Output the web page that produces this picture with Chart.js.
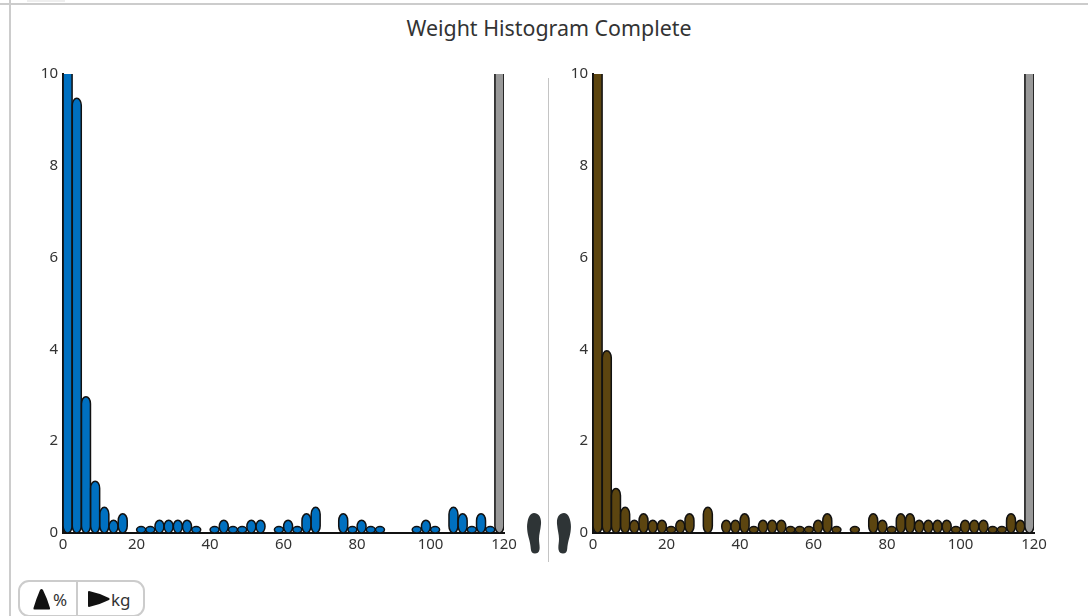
<!DOCTYPE html>
<html>
<head>
<meta charset="utf-8">
<title>Weight Histogram Complete</title>
<script src="https://cdn.jsdelivr.net/npm/chart.js@4"></script>
<style>
  html, body { margin: 0; padding: 0; background: #fff; overflow: hidden; }
  body { width: 1088px; height: 616px; position: relative; font-family: "Noto Sans", sans-serif; color: #333; }
  .frameTop { position: absolute; left: 0; top: 3px; width: 1088px; height: 2px; background: #ccc; }
  .frameLeft { position: absolute; left: 9px; top: 0; width: 2px; height: 616px; background: #ccc; }
  .tab { position: absolute; left: 27px; top: 0; width: 38px; height: 2px; background: #eee; }
  .title { position: absolute; left: 0; width: 1098px; top: 14px; text-align: center; font-size: 21.4px; line-height: 28px; }
  .divider { position: absolute; left: 548px; top: 78px; width: 1px; height: 484px; background: #c4c4c4; }
  canvas { position: absolute; top: 60px; }
  .foot { position: absolute; top: 513px; }
  .buttons { position: absolute; left: 18px; top: 580px; width: 127px; height: 37px; border: 2px solid #ccc; border-radius: 11px; box-sizing: border-box; }
  .sep { position: absolute; left: 56px; top: 0; width: 2px; height: 37px; background: #ccc; }
  .buttons svg, .buttons span { position: absolute; }
  .buttons span { font-size: 17px; line-height: 20px; top: 8px; }
</style>
</head>
<body>
<div class="frameTop"></div>
<div class="frameLeft"></div>
<div class="tab"></div>
<div class="title">Weight Histogram Complete</div>
<canvas id="leftChart"></canvas>
<canvas id="rightChart"></canvas>
<div class="divider"></div>
<svg class="foot" style="left:527px" width="15" height="41" viewBox="0 0 15 41"><path d="M7 0C11.500 0 14.500 4 14 11C13.500 17 12 21 12 26C12 30 13 33 12.500 36.500C12 39.500 10 40.500 8 40.500C5.500 40.500 4 39 3.800 36C3.500 32 3 29 1.500 24C0.300 19 -0.500 14 0.500 9C1.500 3.500 3.500 0 7 0Z" fill="#2e3436"/></svg>
<svg class="foot" style="left:556px" width="15" height="41" viewBox="0 0 15 41"><path d="M8 0C3.500 0 0.500 4 1 11C1.500 17 3 21 3 26C3 30 2 33 2.500 36.500C3 39.500 5 40.500 7 40.500C9.500 40.500 11 39 11.200 36C11.500 32 12 29 13.500 24C14.700 19 15.500 14 14.500 9C13.500 3.500 11.500 0 8 0Z" fill="#2e3436"/></svg>
<div class="buttons">
  <svg style="left:13px;top:6px" width="18" height="22" viewBox="0 0 18 22"><path d="M7 2Q8.500 0 10 2Q14 10 17 20Q17.500 21.500 16 21.500L1.500 21.500Q0 21.500 0.500 20Q3.500 10 7 2Z" fill="#111"/></svg>
  <span style="left:33px">%</span>
  <div class="sep"></div>
  <svg style="left:67px;top:8px" width="24" height="18" viewBox="0 0 24 18"><path d="M2 1Q1 1 1 2L1 16Q1 17 2 17Q12 15 22 10Q23.500 9 22 8Q12 3 2 1Z" fill="#111"/></svg>
  <span style="left:91px">kg</span>
</div>
<script>
const binCenters = [1.25, 3.75, 6.25, 8.75, 11.25, 13.75, 16.25, 18.75, 21.25, 23.75, 26.25, 28.75,
  31.25, 33.75, 36.25, 38.75, 41.25, 43.75, 46.25, 48.75, 51.25, 53.75, 56.25, 58.75,
  61.25, 63.75, 66.25, 68.75, 71.25, 73.75, 76.25, 78.75, 81.25, 83.75, 86.25, 88.75,
  91.25, 93.75, 96.25, 98.75, 101.25, 103.75, 106.25, 108.75, 111.25, 113.75, 116.25, 118.75];

const leftValues = [14, 9.47, 2.97, 1.13, 0.56, 0.28, 0.42, 0, 0.14, 0.14, 0.28, 0.28,
  0.28, 0.28, 0.14, 0, 0.14, 0.28, 0.14, 0.14, 0.28, 0.28, 0, 0.14,
  0.28, 0.14, 0.42, 0.56, 0, 0, 0.42, 0.14, 0.28, 0.14, 0.14, 0,
  0, 0, 0.14, 0.28, 0.14, 0, 0.56, 0.42, 0.14, 0.42, 0.14, 14];

const rightValues = [14, 3.97, 0.97, 0.56, 0.28, 0.42, 0.28, 0.28, 0.14, 0.28, 0.42, 0,
  0.56, 0, 0.28, 0.28, 0.42, 0.14, 0.28, 0.28, 0.28, 0.14, 0.14, 0.14,
  0.28, 0.42, 0.14, 0, 0.14, 0, 0.42, 0.28, 0.14, 0.42, 0.42, 0.28,
  0.28, 0.28, 0.28, 0.14, 0.28, 0.28, 0.28, 0.14, 0.14, 0.42, 0.28, 14];

const xTicks = [0, 20, 40, 60, 80, 100, 120];
const yTicks = [0, 2, 4, 6, 8, 10];

const leftColor = '#0070c0';
const rightColor = '#5c4510';
const overflowColor = '#999999';

const tickFont = { family: '"Noto Sans", sans-serif', size: 15 };

// bars in the original have elliptical ends, so replace the bar outline
Chart.BarElement.prototype.draw = function (ctx) {
  const { x, y, base, width } = this.getProps(['x', 'y', 'base', 'width']);
  const h = base - y;
  if (h <= 0) return;
  const rx = width / 2 - 0.1;
  const ry = Math.min(h / 2, 7);
  ctx.save();
  ctx.beginPath();
  ctx.ellipse(x, y + ry, rx, ry, 0, Math.PI, 2 * Math.PI);
  ctx.ellipse(x, base - ry, rx, ry, 0, 0, Math.PI);
  ctx.closePath();
  ctx.fillStyle = this.options.backgroundColor;
  ctx.strokeStyle = this.options.borderColor;
  ctx.lineWidth = this.options.borderWidth;
  ctx.fill();
  ctx.stroke();
  ctx.restore();
};

const makeChart = (canvasId, left, width, values, color) => {
  const canvas = document.getElementById(canvasId);
  canvas.style.left = left + 'px';
  canvas.style.width = width + 'px';
  canvas.style.height = '514px';
  canvas.width = width;
  canvas.height = 514;

  const lastIndex = values.length - 1;

  return new Chart(canvas, {
    type: 'bar',
    data: {
      datasets: [{
        data: values.map((v, i) => ({ x: binCenters[i], y: v })),
        backgroundColor: values.map((v, i) => i === lastIndex ? overflowColor : color),
        borderColor: '#111111',
        borderWidth: 1.5,
        barPercentage: 1,
        categoryPercentage: 1
      }]
    },
    options: {
      responsive: false,
      animation: false,
      layout: { padding: { top: 14, right: 16, left: 0, bottom: 0 } },
      plugins: { legend: { display: false }, tooltip: { enabled: false } },
      scales: {
        x: {
          type: 'linear',
          offset: false,
          min: 0,
          max: 120,
          grid: { display: false },
          border: { color: '#111111', width: 2 },
          afterBuildTicks: (scale) => { scale.ticks = xTicks.map((v) => ({ value: v })); },
          ticks: { color: '#333333', font: tickFont, padding: -5, maxRotation: 0 },
          afterFit: (scale) => { scale.height = 41; }
        },
        y: {
          min: 0,
          max: 10,
          grid: { display: false },
          border: { color: '#111111', width: 2 },
          afterBuildTicks: (scale) => { scale.ticks = yTicks.map((v) => ({ value: v })); },
          ticks: { color: '#333333', font: tickFont, padding: -3 },
          afterFit: (scale) => { scale.width = 63; }
        }
      }
    }
  });
};

makeChart('leftChart', 0, 520, leftValues, leftColor);
makeChart('rightChart', 530, 520, rightValues, rightColor);
</script>
</body>
</html>
